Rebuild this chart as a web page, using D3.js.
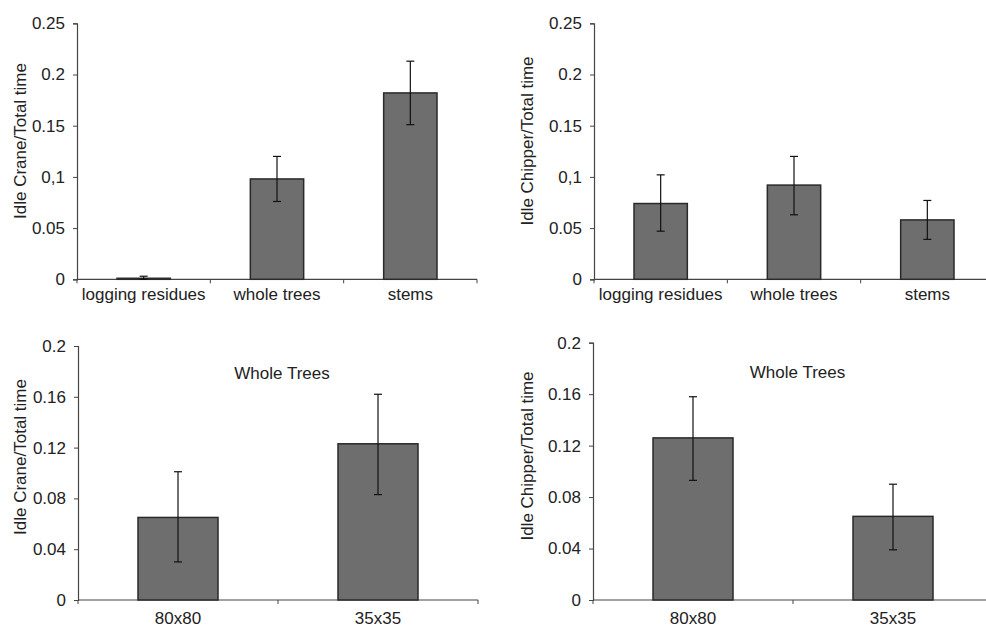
<!DOCTYPE html>
<html>
<head>
<meta charset="utf-8">
<script src="https://cdn.jsdelivr.net/npm/d3@7"></script>
<style>
  html, body { margin: 0; padding: 0; background: #fff; }
  svg { display: block; }
  text { font-family: "Liberation Sans", Arial, sans-serif; fill: #222; }
</style>
</head>
<body>
<svg id="chart" width="986" height="626"></svg>
<script>
// ---- Data ----
const fuelCategories = ["logging residues", "whole trees", "stems"];
const craneMeans = [0.001, 0.098, 0.182];
const craneLow   = [0.000, 0.076, 0.151];
const craneHigh  = [0.003, 0.120, 0.213];

const chipperMeans = [0.074, 0.092, 0.058];
const chipperLow   = [0.047, 0.063, 0.039];
const chipperHigh  = [0.102, 0.120, 0.077];

const sizeCategories = ["80x80", "35x35"];
const wtCraneMeans = [0.065, 0.123];
const wtCraneLow   = [0.030, 0.083];
const wtCraneHigh  = [0.101, 0.162];

const wtChipperMeans = [0.126, 0.065];
const wtChipperLow   = [0.093, 0.039];
const wtChipperHigh  = [0.158, 0.090];

const topTicks = [0, 0.05, 0.1, 0.15, 0.2, 0.25];
const topTickLabels = ["0", "0.05", "0,1", "0.15", "0.2", "0.25"];
const bottomTicks = [0, 0.04, 0.08, 0.12, 0.16, 0.2];
const bottomTickLabels = ["0", "0.04", "0.08", "0.12", "0.16", "0.2"];

// ---- Drawing ----
const svg = d3.select("#chart");

function panel(opts) {
  const g = svg.append("g");
  const x = d3.scaleBand().domain(opts.cats).range([opts.x0, opts.x1]).paddingInner(0.6).paddingOuter(0.3);
  const y = d3.scaleLinear().domain([0, opts.ymax]).range([opts.yb, opts.yt]);
  const step = (opts.x1 - opts.x0) / opts.cats.length;

  // y axis
  const yAxis = d3.axisLeft(y).tickValues(opts.ticks)
    .tickFormat((d, i) => opts.tickLabels[i]).tickSize(4).tickPadding(8);
  const ya = g.append("g").attr("transform", `translate(${opts.x0},0)`).call(yAxis);
  ya.select(".domain").attr("stroke", "#444").attr("stroke-width", 1.2);
  ya.selectAll(".tick line").attr("stroke", "#444");
  ya.selectAll(".tick text").attr("font-size", 17).attr("font-family", "Liberation Sans, Arial, sans-serif").attr("fill", "#222");

  // x axis line with boundary ticks
  g.append("line").attr("x1", opts.x0).attr("x2", opts.x1).attr("y1", y(0)).attr("y2", y(0))
    .attr("stroke", "#444").attr("stroke-width", 1.2);
  const bounds = d3.range(opts.cats.length + 1).map(i => opts.x0 + i * step);
  g.selectAll(".bt").data(bounds).enter().append("line")
    .attr("x1", d => d).attr("x2", d => d).attr("y1", y(0)).attr("y2", y(0) + 4)
    .attr("stroke", "#444");

  // bars
  g.selectAll(".bar").data(opts.means).enter().append("rect")
    .attr("x", (d, i) => x(opts.cats[i]))
    .attr("y", d => y(d))
    .attr("width", x.bandwidth())
    .attr("height", d => y(0) - y(d))
    .attr("fill", "#6e6e6e").attr("stroke", "#2a2a2a").attr("stroke-width", 1.5);

  // error bars
  const cx = i => x(opts.cats[i]) + x.bandwidth() / 2;
  opts.means.forEach((m, i) => {
    g.append("line").attr("x1", cx(i)).attr("x2", cx(i))
      .attr("y1", y(opts.low[i])).attr("y2", y(opts.high[i]))
      .attr("stroke", "#111").attr("stroke-width", 1.2);
    [opts.low[i], opts.high[i]].forEach(v => {
      g.append("line").attr("x1", cx(i) - 4).attr("x2", cx(i) + 4)
        .attr("y1", y(v)).attr("y2", y(v))
        .attr("stroke", "#111").attr("stroke-width", 1.2);
    });
  });

  // x labels
  g.selectAll(".xl").data(opts.cats).enter().append("text")
    .attr("x", d => x(d) + x.bandwidth() / 2)
    .attr("y", y(0) + opts.xlOff)
    .attr("text-anchor", "middle").attr("font-size", 17)
    .text(d => d);

  // y title
  g.append("text")
    .attr("transform", `translate(${opts.ytX},${opts.ytY}) rotate(-90)`)
    .attr("text-anchor", "middle").attr("font-size", 17)
    .text(opts.ytitle);

  if (opts.title) {
    g.append("text").attr("x", opts.titleX).attr("y", opts.titleY)
      .attr("text-anchor", "middle").attr("font-size", 17).text(opts.title);
  }
}

panel({ cats: fuelCategories, means: craneMeans, low: craneLow, high: craneHigh,
  x0: 77, x1: 477, yt: 23.3, yb: 279.3, ymax: 0.25, ticks: topTicks, tickLabels: topTickLabels,
  xlOff: 21, ytitle: "Idle Crane/Total time", ytX: 26, ytY: 141 });

panel({ cats: fuelCategories, means: chipperMeans, low: chipperLow, high: chipperHigh,
  x0: 594, x1: 994, yt: 23.3, yb: 279.3, ymax: 0.25, ticks: topTicks, tickLabels: topTickLabels,
  xlOff: 21, ytitle: "Idle Chipper/Total time", ytX: 533, ytY: 141 });

panel({ cats: sizeCategories, means: wtCraneMeans, low: wtCraneLow, high: wtCraneHigh,
  x0: 78, x1: 478, yt: 346, yb: 600, ymax: 0.2, ticks: bottomTicks, tickLabels: bottomTickLabels,
  xlOff: 23.5, ytitle: "Idle Crane/Total time", ytX: 26, ytY: 457,
  title: "Whole Trees", titleX: 282, titleY: 379 });

panel({ cats: sizeCategories, means: wtChipperMeans, low: wtChipperLow, high: wtChipperHigh,
  x0: 593, x1: 993, yt: 342.7, yb: 600, ymax: 0.2, ticks: bottomTicks, tickLabels: bottomTickLabels,
  xlOff: 23.5, ytitle: "Idle Chipper/Total time", ytX: 533, ytY: 456,
  title: "Whole Trees", titleX: 797.5, titleY: 378 });
</script>
</body>
</html>
